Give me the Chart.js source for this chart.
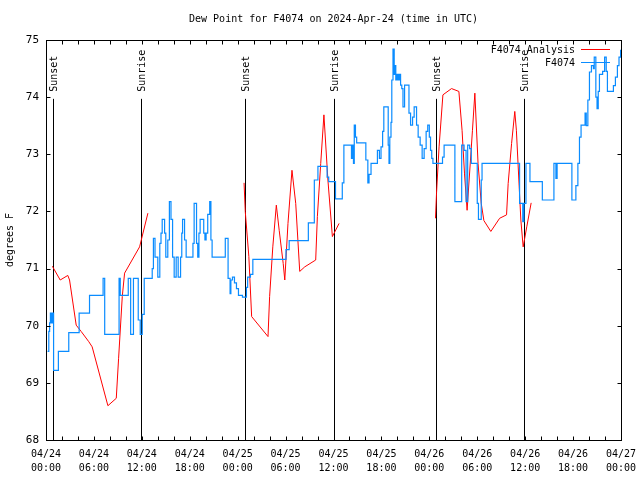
<!DOCTYPE html>
<html>
<head>
<meta charset="utf-8">
<title>Dew Point for F4074</title>
<script src="https://cdn.jsdelivr.net/npm/chart.js@4.4.1/dist/chart.umd.min.js"></script>
<style>
  html, body { margin: 0; padding: 0; background: #ffffff; }
  #wrap { width: 640px; height: 480px; }
</style>
</head>
<body>
<div id="wrap"><canvas id="dewChart" width="640" height="480"></canvas></div>
<script>
const chartTitle = 'Dew Point for F4074 on 2024-Apr-24 (time in UTC)';

// x axis: hours since 04/24 00:00 UTC, ticks every 6 h
const xTickDates = ['04/24', '04/24', '04/24', '04/24', '04/25', '04/25', '04/25',
                    '04/25', '04/26', '04/26', '04/26', '04/26', '04/27'];
const xTickTimes = ['00:00', '06:00', '12:00', '18:00', '00:00', '06:00', '12:00',
                    '18:00', '00:00', '06:00', '12:00', '18:00', '00:00'];

// sunrise / sunset markers (hours)
const sunHours = [0.85, 11.93, 24.96, 36.0, 48.85, 59.9];
const sunNames = ['Sunset', 'Sunrise', 'Sunset', 'Sunrise', 'Sunset', 'Sunrise'];

// F4074 Analysis (red), null = gap between nights
const analysisHours = [
  0.8, 1.78, 2.73, 2.95, 3.78, 4.4, 5.36, 5.78, 7.75, 8.8, 9.09, 9.55, 9.84, 11.72, 12.76,
  null,
  24.8, 24.95, 25.4, 25.75, 27.8, 28.0, 28.4, 28.84, 29.2, 29.7, 29.9, 30.3, 30.8, 31.27,
  31.77, 32.4, 33.77, 33.98, 34.4, 34.8, 35.3, 35.86, 36.7,
  null,
  48.77, 48.9, 49.22, 49.7, 50.78, 51.7, 52.1, 52.4, 52.73, 53.4, 53.7, 54.1, 54.5, 54.83,
  55.7, 56.8, 57.67, 57.87, 58.3, 58.7, 58.9, 59.46, 59.75, 60.2, 60.75
];
const analysisValues = [
  71.04, 70.8, 70.88, 70.8, 70.01, 69.9, 69.72, 69.63, 68.6, 68.73, 69.43, 70.51, 70.92, 71.38, 71.97,
  null,
  72.5, 72.0, 71.21, 70.16, 69.81, 70.51, 71.38, 72.11, 71.67, 71.09, 70.8, 71.79, 72.72, 72.14,
  70.95, 71.03, 71.15, 71.91, 72.84, 73.69, 72.55, 71.56, 71.79,
  null,
  71.88, 72.32, 73.13, 74.04, 74.15, 74.1, 73.42, 72.67, 72.02, 73.42, 74.07, 72.84, 72.14, 71.84,
  71.65, 71.88, 71.94, 72.49, 73.19, 73.75, 73.42, 71.85, 71.38, 71.73, 72.15
];

// F4074 observations (blue), each value holds until the next time
const obsHours = [
  0.2, 0.35, 0.45, 0.55, 0.7, 0.8, 0.95, 1.55, 2.85, 4.15, 5.45, 7.15, 7.35, 9.15, 9.3,
  10.3, 10.6, 10.95, 11.55, 11.8, 12.05, 12.3, 13.3, 13.45, 13.65, 14.0, 14.25, 14.4, 14.55,
  14.85, 15.0, 15.25, 15.45, 15.65, 15.85, 16.05, 16.3, 16.55, 16.85, 17.0, 17.1, 17.35, 17.55,
  18.4, 18.55, 18.85, 19.0, 19.15, 19.3, 19.75, 19.9, 20.05, 20.25, 20.5, 20.65, 20.8, 22.45,
  22.8, 23.05, 23.15, 23.35, 23.6, 23.85, 24.1, 24.6, 25.1, 25.25, 25.6, 25.9, 30.05, 30.45,
  32.85, 33.6, 34.05, 35.2, 35.4, 36.25, 37.1, 37.3, 38.25, 38.4, 38.5, 38.6, 38.75, 38.9,
  40.05, 40.3, 40.45, 40.7, 41.5, 41.75, 41.95, 42.15, 42.3, 42.85, 42.95, 43.05, 43.2, 43.3,
  43.45, 43.6, 43.7, 43.8, 43.95, 44.1, 44.25, 44.4, 44.55, 44.7, 44.9, 45.45, 45.65, 45.9,
  46.1, 46.4, 46.6, 46.85, 47.1, 47.35, 47.6, 47.8, 48.0, 48.15, 48.3, 48.45, 49.65, 49.85,
  51.2, 52.05, 52.35, 52.6, 52.8, 53.05, 53.25, 54.0, 54.15, 54.5, 54.6, 59.3, 59.7, 59.85,
  60.1, 60.6, 62.15, 63.6, 63.85, 64.0, 65.85, 66.35, 66.6, 66.8, 67.0, 67.5, 67.65, 67.85,
  68.05, 68.3, 68.55, 68.65, 68.85, 69.0, 69.15, 69.3, 69.7, 69.95, 70.15, 70.3, 71.05, 71.3,
  71.55, 71.75, 71.95
];
const obsValues = [
  69.55, 69.9, 70.05, 70.22, 70.05, 70.22, 69.22, 69.55, 69.88, 70.22, 70.53, 70.83, 69.85, 70.83, 70.53,
  70.83, 69.85, 70.83, 70.1, 69.85, 70.2, 70.83, 71.0, 71.53, 71.2, 70.85, 71.44, 71.62, 71.86,
  71.62, 71.2, 71.5, 72.17, 71.86, 71.2, 70.85, 71.2, 70.85, 71.2, 71.62, 71.86, 71.5, 71.2,
  71.44, 72.14, 71.44, 71.2, 71.62, 71.86, 71.62, 71.5, 71.62, 71.95, 72.17, 71.5, 71.2, 71.53,
  70.83, 70.56, 70.8, 70.85, 70.75, 70.65, 70.53, 70.5, 70.67, 70.85, 70.9, 71.16, 71.33, 71.49,
  71.8, 72.55, 72.79, 72.6, 72.52, 72.22, 72.5, 73.16, 72.93, 73.16, 72.84, 73.51, 73.3, 73.2,
  72.9, 72.5, 72.65, 72.84, 73.07, 72.93, 73.13, 73.4, 73.83, 73.16, 72.84, 73.3, 73.56, 74.3,
  74.84, 74.4, 74.55, 74.3, 74.4, 74.3, 74.4, 74.21, 74.15, 73.83, 74.21, 73.72, 73.51, 73.65,
  73.83, 73.51, 73.3, 73.16, 72.93, 73.1, 73.4, 73.51, 73.3, 73.07, 72.93, 72.84, 72.95, 73.16,
  72.17, 73.16, 73.07, 72.17, 73.16, 73.1, 72.84, 72.14, 71.86, 72.55, 72.84, 72.14, 71.82, 72.14,
  72.84, 72.52, 72.2, 72.84, 72.58, 72.84, 72.2, 72.45, 72.84, 73.3, 73.51, 73.72, 73.5, 73.95,
  74.44, 74.55, 74.5, 74.7, 74.0, 73.8, 74.1, 74.4, 74.45, 74.7, 74.45, 74.1, 74.2, 74.35,
  74.55, 74.7, 74.83
];

const FONT = "10px 'DejaVu Sans Mono', monospace";

function toPoints(xs, ys) {
  return xs.map((h, i) => ({ x: h === null ? NaN : h, y: ys[i] }));
}

// sunrise / sunset lines with rotated labels
const sunMarkers = {
  id: 'sunMarkers',
  beforeDatasetsDraw(chart) {
    const { ctx, scales: { x, y } } = chart;
    const top = y.getPixelForValue(73.97);
    ctx.save();
    ctx.strokeStyle = '#000';
    ctx.lineWidth = 1;
    ctx.fillStyle = '#000';
    ctx.font = FONT;
    sunHours.forEach((h, i) => {
      const px = Math.round(x.getPixelForValue(h)) + 0.5;
      ctx.beginPath();
      ctx.moveTo(px, top);
      ctx.lineTo(px, y.bottom);
      ctx.stroke();
      ctx.save();
      ctx.translate(px + 1, top - 7);
      ctx.rotate(-Math.PI / 2);
      ctx.textAlign = 'left';
      ctx.textBaseline = 'middle';
      ctx.fillText(sunNames[i], 0, 0);
      ctx.restore();
    });
    ctx.restore();
  }
};

// gnuplot style frame, inward ticks, title and key
const frame = {
  id: 'frame',
  afterDraw(chart) {
    const { ctx, chartArea: a, scales: { x, y } } = chart;
    ctx.save();
    ctx.strokeStyle = '#000';
    ctx.lineWidth = 1;
    const L = Math.round(a.left) + 0.5, R = Math.round(a.right) + 0.5;
    const T = Math.round(a.top) + 0.5, B = Math.round(a.bottom) + 0.5;
    ctx.strokeRect(L, T, R - L, B - T);
    ctx.beginPath();
    for (let h = 2; h < 72; h += 2) {
      const px = Math.round(x.getPixelForValue(h)) + 0.5;
      ctx.moveTo(px, B); ctx.lineTo(px, B - 4);
      ctx.moveTo(px, T); ctx.lineTo(px, T + 4);
    }
    for (let v = 69; v < 75; v++) {
      const py = Math.round(y.getPixelForValue(v)) + 0.5;
      ctx.moveTo(L, py); ctx.lineTo(L + 4, py);
      ctx.moveTo(R, py); ctx.lineTo(R - 4, py);
    }
    ctx.stroke();

    ctx.fillStyle = '#000';
    ctx.font = FONT;
    ctx.textAlign = 'center';
    ctx.textBaseline = 'middle';
    ctx.fillText(chartTitle, (a.left + a.right) / 2, 19);

    // key
    const keyOrder = [1, 0];
    keyOrder.forEach((di, row) => {
      const ds = chart.data.datasets[di];
      const ky = 50 + row * 13;
      ctx.textAlign = 'right';
      ctx.fillStyle = '#000';
      ctx.fillText(ds.label, 575, ky);
      ctx.strokeStyle = ds.borderColor;
      ctx.beginPath();
      ctx.moveTo(581, Math.round(ky) - 0.5);
      ctx.lineTo(610, Math.round(ky) - 0.5);
      ctx.stroke();
    });
    ctx.restore();
  }
};

new Chart(document.getElementById('dewChart'), {
  type: 'line',
  data: {
    datasets: [
      {
        label: 'F4074',
        data: toPoints(obsHours, obsValues),
        borderColor: '#0a8cff',
        borderWidth: 1.2,
        pointRadius: 0,
        stepped: true,
        fill: false,
        order: 0
      },
      {
        label: 'F4074 Analysis',
        data: toPoints(analysisHours, analysisValues),
        borderColor: '#ff0000',
        borderWidth: 1,
        pointRadius: 0,
        tension: 0,
        spanGaps: false,
        fill: false,
        order: 1
      }
    ]
  },
  options: {
    responsive: false,
    animation: false,
    layout: { padding: { top: 40, right: 19, left: 0, bottom: 0 } },
    plugins: {
      legend: { display: false },
      title: { display: false },
      tooltip: { enabled: false }
    },
    scales: {
      x: {
        type: 'linear',
        min: 0,
        max: 72,
        grid: { display: false },
        border: { display: false },
        afterFit: (s) => { s.height = 40; },
        ticks: {
          stepSize: 6,
          autoSkip: false,
          maxRotation: 0,
          padding: -1,
          color: '#000',
          font: { family: "'DejaVu Sans Mono', monospace", size: 10, lineHeight: 1.4 },
          callback: (v) => {
            const i = Math.round(v / 6);
            return [xTickDates[i], xTickTimes[i]];
          }
        }
      },
      y: {
        min: 68,
        max: 75,
        grid: { display: false, drawTicks: false },
        border: { display: false },
        afterFit: (s) => { s.width = 46; },
        title: {
          display: true,
          text: 'degrees F',
          color: '#000',
          font: { family: "'DejaVu Sans Mono', monospace", size: 10 },
          padding: { top: 4, bottom: 0 }
        },
        ticks: {
          stepSize: 1,
          padding: 7,
          color: '#000',
          font: { family: "'DejaVu Sans Mono', monospace", size: 11 }
        }
      }
    }
  },
  plugins: [sunMarkers, frame]
});
</script>
</body>
</html>
